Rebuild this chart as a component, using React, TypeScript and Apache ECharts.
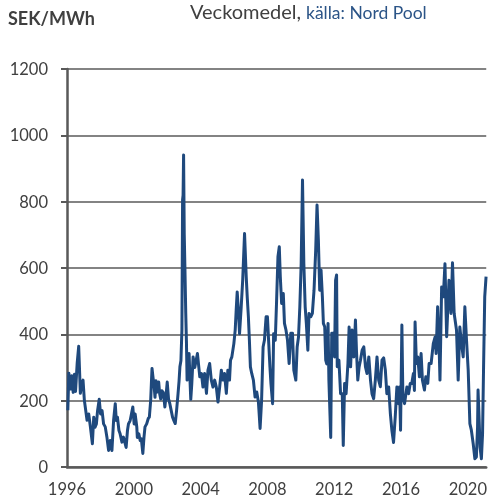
import React, { useEffect, useRef } from "react";
import * as echarts from "echarts";

const years = [
  1996.05, 1996.11, 1996.21, 1996.29, 1996.37, 1996.45, 1996.51, 1996.61, 1996.70, 1996.80,
  1996.88, 1996.96, 1997.04, 1997.20, 1997.30, 1997.40, 1997.52, 1997.60, 1997.68, 1997.76,
  1997.83, 1997.93, 1998.01, 1998.10, 1998.19, 1998.29, 1998.39, 1998.49, 1998.59, 1998.69,
  1998.79, 1998.89, 1998.95, 1999.02, 1999.11, 1999.18, 1999.29, 1999.38, 1999.54, 1999.62,
  1999.68, 1999.78, 1999.82, 1999.94, 2000.02, 2000.08, 2000.18, 2000.21, 2000.30, 2000.38,
  2000.45, 2000.54, 2000.61, 2000.67, 2000.77, 2000.87, 2000.93, 2001.01, 2001.05, 2001.09,
  2001.15, 2001.21, 2001.27, 2001.33, 2001.37, 2001.43, 2001.49, 2001.55, 2001.61, 2001.68,
  2001.76, 2001.82, 2001.86, 2001.92, 2002.00, 2002.08, 2002.16, 2002.24, 2002.32, 2002.40,
  2002.48, 2002.56, 2002.65, 2002.71, 2002.76, 2002.82, 2002.88, 2002.92, 2002.95, 2002.98,
  2003.02, 2003.06, 2003.11, 2003.15, 2003.19, 2003.25, 2003.31, 2003.35, 2003.41, 2003.47,
  2003.55, 2003.65, 2003.81, 2003.89, 2003.95, 2004.05, 2004.14, 2004.24, 2004.35, 2004.44,
  2004.54, 2004.64, 2004.74, 2004.84, 2004.94, 2005.04, 2005.14, 2005.24, 2005.33, 2005.43,
  2005.54, 2005.63, 2005.73, 2005.79, 2005.87, 2005.99, 2006.07, 2006.13, 2006.19, 2006.27,
  2006.33, 2006.43, 2006.52, 2006.63, 2006.73, 2006.79, 2006.86, 2006.92, 2006.98, 2007.06,
  2007.16, 2007.26, 2007.36, 2007.46, 2007.56, 2007.65, 2007.74, 2007.82, 2007.92, 2008.00,
  2008.07, 2008.15, 2008.21, 2008.31, 2008.37, 2008.47, 2008.55, 2008.63, 2008.71, 2008.77,
  2008.85, 2008.95, 2009.02, 2009.11, 2009.20, 2009.30, 2009.40, 2009.50, 2009.58, 2009.70,
  2009.78, 2009.86, 2009.94, 2010.02, 2010.10, 2010.18, 2010.26, 2010.33, 2010.42, 2010.49,
  2010.60, 2010.69, 2010.79, 2010.89, 2010.97, 2011.05, 2011.13, 2011.21, 2011.29, 2011.35,
  2011.43, 2011.49, 2011.55, 2011.63, 2011.68, 2011.79, 2011.85, 2011.94, 2012.02, 2012.08,
  2012.14, 2012.18, 2012.28, 2012.38, 2012.48, 2012.54, 2012.62, 2012.71, 2012.82, 2012.89,
  2012.98, 2013.07, 2013.17, 2013.27, 2013.33, 2013.41, 2013.49, 2013.57, 2013.67, 2013.77,
  2013.87, 2013.96, 2014.07, 2014.17, 2014.26, 2014.36, 2014.46, 2014.56, 2014.66, 2014.76,
  2014.86, 2014.96, 2015.06, 2015.15, 2015.26, 2015.36, 2015.45, 2015.55, 2015.65, 2015.75,
  2015.85, 2015.91, 2015.97, 2016.05, 2016.11, 2016.21, 2016.35, 2016.45, 2016.55, 2016.64,
  2016.74, 2016.80, 2016.84, 2016.92, 2017.00, 2017.10, 2017.20, 2017.28, 2017.40, 2017.48,
  2017.60, 2017.68, 2017.80, 2017.93, 2018.04, 2018.10, 2018.19, 2018.27, 2018.33, 2018.43,
  2018.53, 2018.63, 2018.73, 2018.87, 2018.99, 2019.08, 2019.18, 2019.32, 2019.42, 2019.52,
  2019.62, 2019.72, 2019.82, 2019.92, 2020.02, 2020.12, 2020.21, 2020.32, 2020.42, 2020.51,
  2020.58, 2020.61, 2020.67, 2020.73, 2020.81, 2020.88, 2020.94, 2021.01, 2021.09,
];

const prices = [
  171, 283, 235, 275, 225, 280, 228, 313, 364, 222,
  250, 262, 201, 141, 160, 121, 70, 150, 120, 130,
  170, 204, 160, 170, 130, 121, 90, 50, 80, 50,
  141, 191, 140, 150, 110, 100, 75, 90, 59, 110,
  130, 140, 150, 181, 130, 160, 120, 89, 100, 80,
  85, 41, 90, 121, 130, 147, 150, 201, 250, 297,
  270, 247, 210, 260, 225, 240, 256, 220, 205, 230,
  225, 200, 181, 210, 256, 205, 190, 170, 150, 140,
  131, 170, 222, 260, 302, 320, 413, 805, 820, 941,
  700, 600, 463, 380, 262, 300, 342, 280, 204, 250,
  332, 300, 342, 302, 272, 282, 241, 282, 222, 292,
  312, 262, 241, 262, 241, 196, 241, 292, 262, 282,
  222, 292, 262, 322, 332, 372, 413, 473, 528, 463,
  402, 483, 564, 704, 574, 513, 453, 382, 302, 282,
  262, 211, 226, 196, 116, 200, 362, 382, 453, 453,
  382, 302, 252, 191, 402, 382, 503, 634, 664, 574,
  493, 523, 433, 413, 383, 312, 403, 403, 292, 262,
  362, 392, 483, 613, 865, 613, 483, 433, 352, 463,
  453, 463, 533, 654, 790, 684, 533, 594, 513, 433,
  423, 322, 311, 433, 262, 89, 403, 403, 332, 563,
  579, 302, 322, 221, 221, 65, 252, 221, 312, 422,
  302, 413, 332, 443, 352, 262, 302, 322, 352, 362,
  302, 282, 332, 262, 221, 206, 262, 332, 262, 242,
  322, 329, 292, 221, 241, 161, 111, 74, 150, 241,
  191, 241, 111, 428, 211, 191, 241, 221, 252, 252,
  282, 231, 437, 312, 332, 272, 342, 262, 232, 272,
  252, 312, 312, 372, 392, 342, 483, 382, 262, 543,
  513, 613, 393, 563, 463, 616, 463, 413, 262, 422,
  372, 332, 483, 382, 292, 131, 111, 70, 25, 30,
  120, 232, 150, 60, 25, 100, 300, 513, 574,
];

const xTickYears = [1996, 2000, 2004, 2008, 2012, 2016, 2020];
const unitLabel = "SEK/MWh";
const titleMain = "Veckomedel,";
const titleSource = "källa: Nord Pool";

export default function App() {
  const ref = useRef<HTMLDivElement>(null);
  useEffect(() => {
    if (!ref.current) return;
    const chart = echarts.init(ref.current, null, { renderer: "svg" });
    const axisColor = "#595959";
    const textColor = "#404040";
    chart.setOption({
      animation: false,
      grid: { left: 67, right: 2, top: 69, bottom: 36 },
      graphic: [
        {
          type: "text",
          x: 8,
          y: 18,
          style: {
            text: unitLabel,
            font: "bold 18px Lato",
            fill: textColor,
            verticalAlign: "middle",
          },
        },
        {
          type: "text",
          x: 190,
          y: 11,
          style: {
            text: titleMain,
            font: "20px Lato",
            fill: textColor,
            verticalAlign: "middle",
          },
        },
        {
          type: "text",
          x: 306,
          y: 12,
          style: {
            text: titleSource,
            font: "17.5px Lato",
            fill: "#2B5487",
            verticalAlign: "middle",
          },
        },
      ],
      xAxis: {
        type: "value",
        min: 1996,
        max: 2021.1,
        interval: 4,
        axisLine: { show: true, lineStyle: { color: axisColor, width: 2.5 } },
        axisTick: { show: false },
        splitLine: { show: false },
        axisLabel: {
          formatter: (v: number) => (xTickYears.includes(v) ? String(v) : ""),
          fontFamily: "Lato",
          fontSize: 16.5,
          color: textColor,
          margin: 13,
          showMaxLabel: false,
        },
      },
      yAxis: {
        type: "value",
        min: 0,
        max: 1200,
        interval: 200,
        axisLine: { show: true, lineStyle: { color: axisColor, width: 2.5 } },
        axisTick: { show: true, length: 6, lineStyle: { color: axisColor, width: 2 } },
        splitLine: { show: true, lineStyle: { color: "#838383", width: 2 } },
        axisLabel: {
          formatter: (v: number) => String(v),
          fontFamily: "Lato",
          fontSize: 16.5,
          color: textColor,
          margin: 19,
        },
      },
      series: [
        {
          type: "line",
          data: years.map((y, i) => [y, prices[i]]),
          showSymbol: false,
          clip: false,
          lineStyle: { color: "#1F497D", width: 3, join: "round" },
        },
      ],
    });
    return () => chart.dispose();
  }, []);
  return (
    <div
      ref={ref}
      style={{ position: "fixed", left: 0, top: 0, width: 490, height: 503 }}
    />
  );
}
